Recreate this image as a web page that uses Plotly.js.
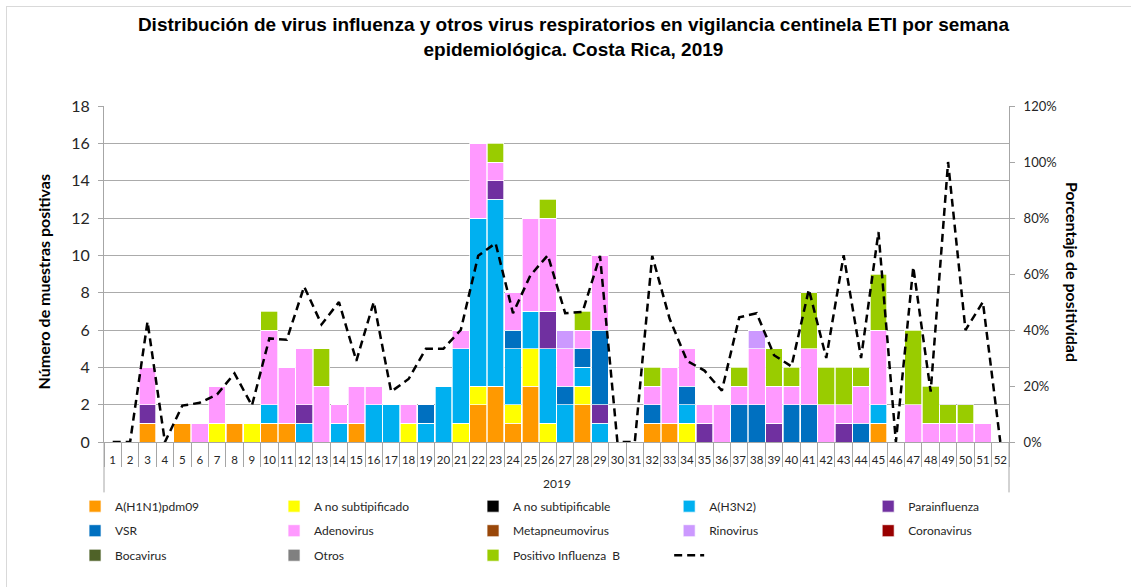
<!DOCTYPE html>
<html>
<head>
<meta charset="utf-8">
<script src="https://cdn.plot.ly/plotly-3.0.1.min.js"></script>
<style>
html,body{margin:0;padding:0;background:#fff;overflow:hidden;}
#chart{width:1131px;height:587px;position:absolute;left:0;top:0;}
#frame{position:absolute;left:6px;top:6px;width:1140px;height:600px;border:1px solid #d9d9d9;pointer-events:none;}
</style>
</head>
<body>
<div id="chart"></div>
<div id="frame"></div>
<script>
// Semanas epidemiológicas
const weeks = Array.from({length: 52}, (_, i) => String(i + 1));

// Número de muestras positivas por semana (1..52)
const h1n1 =         [0,0,1,0,1,0,0,1,0,1, 1,0,0,0,1,0,0,0,0,0, 0,2,3,1,3,0,0,2,0,0, 0,1,1,0,0,0,0,0,0,0, 0,0,0,0,1,0,0,0,0,0, 0,0];
const aNoSubtipificado = [0,0,0,0,0,0,1,0,1,0, 0,0,0,0,0,0,0,1,0,0, 1,1,0,1,2,1,0,1,0,0, 0,0,0,1,0,0,0,0,0,0, 0,0,0,0,0,0,0,0,0,0, 0,0];
const aNoSubtipificable = new Array(52).fill(0);
const h3n2 =         [0,0,0,0,0,0,0,0,0,1, 0,1,0,1,0,2,2,0,1,3, 4,9,10,3,2,4,2,1,1,0, 0,0,0,1,0,0,0,0,0,0, 0,0,0,0,1,0,0,0,0,0, 0,0];
const parainfluenza = [0,0,1,0,0,0,0,0,0,0, 0,1,0,0,0,0,0,0,0,0, 0,0,1,0,0,2,0,0,1,0, 0,0,0,0,1,0,0,0,1,0, 0,0,1,0,0,0,0,0,0,0, 0,0];
const vsr =          [0,0,0,0,0,0,0,0,0,0, 0,0,0,0,0,0,0,0,1,0, 0,0,0,1,0,0,1,1,4,0, 0,1,0,1,0,0,2,2,0,2, 2,0,0,1,0,0,0,0,0,0, 0,0];
const adenovirus =   [0,0,2,0,0,1,2,0,0,4, 3,3,3,1,2,1,0,1,0,0, 1,4,1,2,5,5,2,1,4,0, 0,1,3,2,1,2,1,3,2,1, 3,2,1,2,4,0,2,1,1,1, 1,0];
const metapneumovirus = new Array(52).fill(0);
const rinovirus =    [0,0,0,0,0,0,0,0,0,0, 0,0,0,0,0,0,0,0,0,0, 0,0,0,0,0,0,1,0,0,0, 0,0,0,0,0,0,0,1,0,0, 0,0,0,0,0,0,0,0,0,0, 0,0];
const coronavirus = new Array(52).fill(0);
const bocavirus = new Array(52).fill(0);
const otros = new Array(52).fill(0);
const influenzaB =   [0,0,0,0,0,0,0,0,0,1, 0,0,2,0,0,0,0,0,0,0, 0,0,1,0,0,1,0,1,0,0, 0,1,0,0,0,0,1,0,2,1, 3,2,2,1,3,0,4,2,1,1, 0,0];

// Porcentaje de positividad
const positividad = [0,0,0.43,0,0.13,0.14,0.17,0.245,0.13,0.37,
  0.365,0.555,0.42,0.50,0.29,0.50,0.18,0.225,0.333,0.333,
  0.40,0.665,0.71,0.46,0.595,0.667,0.46,0.465,0.665,0,
  0,0.665,0.44,0.29,0.255,0.183,0.445,0.46,0.31,0.27,
  0.545,0.30,0.667,0.30,0.75,0,0.625,0.18,1.0,0.40,
  0.50,0];

const seriesNames = ['A(H1N1)pdm09','A no subtipificado','A no subtipificable','A(H3N2)','Parainfluenza',
  'VSR','Adenovirus','Metapneumovirus','Rinovirus','Coronavirus',
  'Bocavirus','Otros','Positivo Influenza  B'];
const seriesValues = [h1n1,aNoSubtipificado,aNoSubtipificable,h3n2,parainfluenza,
  vsr,adenovirus,metapneumovirus,rinovirus,coronavirus,
  bocavirus,otros,influenzaB];
const seriesColors = ['#FF9900','#FFFF00','#000000','#00B0F0','#7030A0',
  '#0070C0','#FF99FF','#994709','#CC99FF','#990000',
  '#4F6228','#808080','#99CC00'];
// legend slot: rows of five columns, split in two blocks per row
const legendSlot = ['legend','legend','legend','legend2','legend2',
  'legend3','legend3','legend3','legend4','legend4',
  'legend5','legend5','legend5'];

const traces = seriesNames.map((n, i) => ({
  type: 'bar', name: n, x: weeks, y: seriesValues[i],
  marker: {color: seriesColors[i], line: {color: '#ffffff', width: 0.7}},
  legend: legendSlot[i], hoverinfo: 'x+y+name'
}));
traces.push({
  type: 'scatter', mode: 'lines', name: ' ', x: weeks, y: positividad, yaxis: 'y2',
  line: {color: '#000000', width: 2.5, dash: '8px,5px'}, legend: 'legend6'
});

const gray = '#a6a6a6';
const txt = '#262626';
const legendBase = {
  orientation: 'h', xanchor: 'left', yanchor: 'middle',
  entrywidth: 154, entrywidthmode: 'pixels', traceorder: 'normal',
  bgcolor: 'rgba(0,0,0,0)', font: {family: 'Lato, "Open Sans", sans-serif', size: 12, color: txt}
};
const colA = -0.032, colB = 0.6245;
const row1 = -0.191, row2 = -0.264, row3 = -0.337;

const layout = {
  width: 1131, height: 587,
  margin: {l: 104, r: 122, t: 106, b: 145, pad: 0},
  paper_bgcolor: '#ffffff', plot_bgcolor: '#ffffff',
  barmode: 'stack', bargap: 0.04,
  title: {
    text: 'Distribución de virus influenza y otros virus respiratorios en vigilancia centinela ETI por semana<br>epidemiológica. Costa Rica, 2019',
    font: {family: '"Liberation Sans", Arial, sans-serif', size: 19, color: '#000000', weight: 700},
    x: 0.507, xanchor: 'center', y: 0.947, yanchor: 'top'
  },
  xaxis: {
    type: 'category', tickson: 'boundaries', ticks: 'outside', ticklen: 24, tickcolor: gray, tickwidth: 1,
    showline: true, linecolor: gray, linewidth: 1, showgrid: false, ticklabelstandoff: 7, tickangle: 0,
    tickfont: {family: 'Lato, "Open Sans", sans-serif', size: 11.5, color: txt}, fixedrange: true
  },
  yaxis: {
    range: [0, 18], dtick: 2, showline: true, linecolor: gray, ticks: 'outside', ticklen: 5, tickcolor: gray,
    showgrid: true, gridcolor: '#ababab', gridwidth: 1, zeroline: false, ticklabelstandoff: 5,
    tickfont: {family: 'Lato, "Open Sans", sans-serif', size: 16, color: txt}
  },
  yaxis2: {
    overlaying: 'y', side: 'right', range: [0, 1.2], dtick: 0.2, tickformat: '.0%',
    showline: true, linecolor: gray, ticks: 'outside', ticklen: 5, tickcolor: gray,
    showgrid: false, zeroline: false, ticklabelstandoff: 6,
    tickfont: {family: 'Lato, "Open Sans", sans-serif', size: 13, color: txt}
  },
  legend:  Object.assign({}, legendBase, {x: colA, y: row1}),
  legend2: Object.assign({}, legendBase, {x: colB, y: row1}),
  legend3: Object.assign({}, legendBase, {x: colA, y: row2}),
  legend4: Object.assign({}, legendBase, {x: colB, y: row2}),
  legend5: Object.assign({}, legendBase, {x: colA, y: row3}),
  legend6: Object.assign({}, legendBase, {x: colB, y: row3}),
  shapes: [
    {type: 'line', xref: 'paper', yref: 'paper', x0: 0, x1: 0, y0: 0, y1: -0.15, line: {color: gray, width: 1}},
    {type: 'line', xref: 'paper', yref: 'paper', x0: 1, x1: 1, y0: 0, y1: -0.15, line: {color: gray, width: 1}}
  ],
  annotations: [
    {text: 'Número de muestras positivas', xref: 'paper', yref: 'paper', x: -0.0674, y: 0.475,
     textangle: -90, showarrow: false, xanchor: 'center', yanchor: 'middle',
     font: {family: 'Lato, "Open Sans", sans-serif', size: 16, color: '#000000', weight: 700}},
    {text: 'Porcentaje de positividad', xref: 'paper', yref: 'paper', x: 1.07, y: 0.505,
     textangle: 90, showarrow: false, xanchor: 'center', yanchor: 'middle',
     font: {family: 'Lato, "Open Sans", sans-serif', size: 16, color: '#000000', weight: 700}},
    {text: '2019', xref: 'paper', yref: 'paper', x: 0.5, y: -0.123, showarrow: false,
     xanchor: 'center', yanchor: 'middle',
     font: {family: 'Lato, "Open Sans", sans-serif', size: 12, color: txt}}
  ]
};

Plotly.newPlot('chart', traces, layout, {displayModeBar: false, staticPlot: true});
</script>
</body>
</html>
